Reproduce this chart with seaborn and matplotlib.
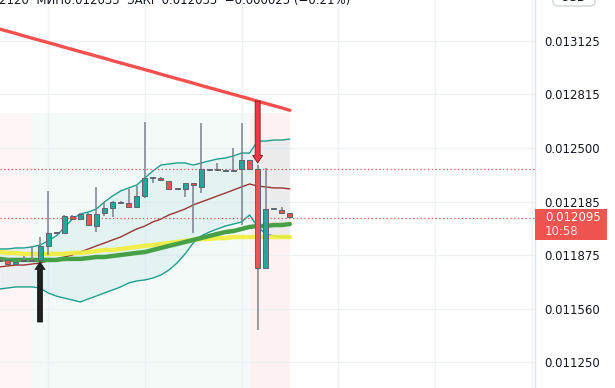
import matplotlib
matplotlib.use("Agg")
import matplotlib.pyplot as plt
from matplotlib.patches import Rectangle, FancyBboxPatch
from matplotlib.transforms import blended_transform_factory
import seaborn as sns
import numpy as np

# --- candles (one per bar, left to right) ---
opens = [0.011846, 0.011846, 0.011823, 0.011840, 0.011840, 0.011846, 0.011928, 0.012004,
         0.012004, 0.012104, 0.012086, 0.012115, 0.012045, 0.012121, 0.012150, 0.012185,
         0.012180, 0.012156, 0.012221, 0.012326, 0.012326, 0.012308, 0.012262, 0.012262,
         0.012297, 0.012273, 0.012378, 0.012372, 0.012372, 0.012367, 0.012378, 0.012431,
         0.012378, 0.011800, 0.012145, 0.012139, 0.012121]
highs = [0.011852, 0.011858, 0.011846, 0.011870, 0.011928, 0.011981, 0.012250, 0.012010,
         0.012110, 0.012110, 0.012121, 0.012121, 0.012273, 0.012185, 0.012191, 0.012191,
         0.012262, 0.012279, 0.012654, 0.012326, 0.012332, 0.012308, 0.012262, 0.012297,
         0.012297, 0.012648, 0.012378, 0.012413, 0.012372, 0.012501, 0.012648, 0.012431,
         0.012402, 0.012384, 0.012145, 0.012156, 0.012121]
lows = [0.011835, 0.011823, 0.011823, 0.011840, 0.011840, 0.011840, 0.011876, 0.012004,
        0.011998, 0.012086, 0.012086, 0.012051, 0.012010, 0.012104, 0.012098, 0.012180,
        0.012156, 0.012156, 0.012209, 0.012297, 0.012314, 0.012262, 0.012262, 0.012215,
        0.012004, 0.012238, 0.012372, 0.012372, 0.012367, 0.012367, 0.012051, 0.012378,
        0.011438, 0.011800, 0.012145, 0.012121, 0.012098]
closes = [0.011840, 0.011823, 0.011835, 0.011840, 0.011846, 0.011928, 0.012004, 0.012010,
          0.012104, 0.012086, 0.012115, 0.012051, 0.012115, 0.012150, 0.012185, 0.012180,
          0.012156, 0.012221, 0.012326, 0.012326, 0.012314, 0.012262, 0.012262, 0.012297,
          0.012285, 0.012378, 0.012372, 0.012372, 0.012367, 0.012372, 0.012431, 0.012378,
          0.011800, 0.012145, 0.012145, 0.012121, 0.012098]

# --- indicators ---
ma_red = [0.013197, 0.013184, 0.013171, 0.013157, 0.013144, 0.013131, 0.013118, 0.013105,
          0.013091, 0.013078, 0.013065, 0.013052, 0.013039, 0.013026, 0.013012, 0.012999,
          0.012986, 0.012973, 0.012960, 0.012947, 0.012933, 0.012920, 0.012907, 0.012894,
          0.012881, 0.012867, 0.012854, 0.012841, 0.012828, 0.012815, 0.012802, 0.012789,
          0.012775, 0.012762, 0.012749, 0.012736, 0.012722]
bb_upper = [0.011911, 0.011911, 0.011917, 0.011917, 0.011923, 0.011934, 0.011958, 0.011987,
            0.012034, 0.012086, 0.012116, 0.012127, 0.012145, 0.012186, 0.012221, 0.012250,
            0.012268, 0.012285, 0.012326, 0.012367, 0.012402, 0.012408, 0.012414, 0.012414,
            0.012402, 0.012414, 0.012426, 0.012437, 0.012443, 0.012455, 0.012472, 0.012472,
            0.012542, 0.012542, 0.012548, 0.012548, 0.012554]
bb_mid = [0.011806, 0.011812, 0.011817, 0.011817, 0.011823, 0.011829, 0.011841, 0.011853,
          0.011864, 0.011876, 0.011893, 0.011911, 0.011929, 0.011946, 0.011964, 0.011981,
          0.012005, 0.012028, 0.012045, 0.012069, 0.012086, 0.012110, 0.012127, 0.012145,
          0.012168, 0.012186, 0.012203, 0.012221, 0.012238, 0.012256, 0.012274, 0.012291,
          0.012279, 0.012274, 0.012268, 0.012268, 0.012262]
bb_lower = [0.011677, 0.011683, 0.011689, 0.011689, 0.011689, 0.011683, 0.011654, 0.011636,
            0.011624, 0.011613, 0.011601, 0.011619, 0.011636, 0.011654, 0.011671, 0.011689,
            0.011712, 0.011724, 0.011730, 0.011741, 0.011759, 0.011788, 0.011829, 0.011882,
            0.011946, 0.011987, 0.012010, 0.012028, 0.012045, 0.012057, 0.012069, 0.012110,
            0.012040, 0.011999, 0.011987, 0.011981, 0.011981]
ma_yellow = [0.011893, 0.011888, 0.011888, 0.011882, 0.011882, 0.011882, 0.011882, 0.011882,
             0.011882, 0.011888, 0.011888, 0.011893, 0.011899, 0.011905, 0.011905, 0.011911,
             0.011917, 0.011923, 0.011929, 0.011934, 0.011940, 0.011946, 0.011952, 0.011958,
             0.011964, 0.011969, 0.011969, 0.011975, 0.011975, 0.011981, 0.011981, 0.011981,
             0.011981, 0.011981, 0.011981, 0.011981, 0.011981]
ma_green = [0.011853, 0.011847, 0.011847, 0.011847, 0.011847, 0.011847, 0.011847, 0.011847,
            0.011853, 0.011853, 0.011853, 0.011858, 0.011864, 0.011864, 0.011870, 0.011876,
            0.011882, 0.011888, 0.011893, 0.011905, 0.011917, 0.011929, 0.011940, 0.011952,
            0.011964, 0.011975, 0.011987, 0.011999, 0.012010, 0.012016, 0.012028, 0.012040,
            0.012045, 0.012045, 0.012051, 0.012051, 0.012057]

# signals: (bar index, arrow tip, arrow tail)
buy_signal = (5, 0.011835, 0.011484)
sell_signal = (32, 0.012414, 0.012776)

# shaded zones (bar index range) and their upper price
zone_starts = [-1, 4, 31]
zone_ends = [4, 31, 36]
zone_colors = ["#fef6f6", "#f4faf7", "#fdf2f1"]
zone_top = 0.012706

price_lines = [0.012378, 0.012095]
last_price = "0.012095"
countdown = "10:58"
y_ticks = [0.011250, 0.011560, 0.011875, 0.012185, 0.012500, 0.012815, 0.013125]
grid_bars = [6, 18, 30, 42, 54, 66]
header = "2120  МИН0.012035  ЗАКР 0.012035  −0.000025 (−0.21%)"

sns.set_theme(style="white")
plt.rcParams['font.family'] = ['DejaVu Sans']

fig = plt.figure(figsize=(6.15, 3.88), dpi=100)
ax = fig.add_axes([0, 0, 535 / 615, 1])
ax.set_facecolor("white")
ax.set_xlim(0.037, 66.41)
ax.set_ylim(0.011098, 0.013367)

idx = np.arange(len(closes))
o, h, l, c = map(np.array, (opens, highs, lows, closes))

# background zones
for s, e, col in zip(zone_starts, zone_ends, zone_colors):
    ax.fill_between([s, e], 0.011098, zone_top, color=col, lw=0, zorder=0)

# grid
ax.set_yticks(y_ticks)
ax.set_yticklabels([f"{v:.6f}" for v in y_ticks])
ax.set_xticks(grid_bars)
ax.set_xticklabels([])
ax.grid(True, color="#eef0f4", lw=1, zorder=0.5)
ax.set_axisbelow(True)

# Bollinger band
ax.fill_between(idx, bb_lower, bb_upper, color="#25a9b8", alpha=0.08, lw=0, zorder=1)
sns.lineplot(x=idx, y=bb_upper, ax=ax, color="#1f9e8e", lw=1, zorder=2)
sns.lineplot(x=idx, y=bb_lower, ax=ax, color="#1f9e8e", lw=1, zorder=2)
sns.lineplot(x=idx, y=bb_mid, ax=ax, color="#9c3434", lw=1, zorder=2)

# moving averages
sns.lineplot(x=idx, y=ma_yellow, ax=ax, color="#f2ee3a", lw=3.2, alpha=0.9, zorder=2)
sns.lineplot(x=idx, y=ma_green, ax=ax, color="#45a046", lw=3.2, zorder=2.1)
sns.lineplot(x=idx, y=ma_red, ax=ax, color="#f5504e", lw=2.4, zorder=2)

# price lines
for p in price_lines:
    ax.axhline(p, color="#f0534f", lw=0.9, ls=(0, (1, 2)), zorder=2.5)

# candles
colors = np.where(c >= o, "#26a69a", "#ef5350")
ax.vlines(idx, l, h, color="#7d808a", lw=1.1, zorder=4)
body_h = np.maximum(np.abs(c - o), 0.000004)
ax.bar(idx, body_h, bottom=np.minimum(o, c), width=0.62, color=colors,
       edgecolor="#60636d", linewidth=0.7, zorder=5)

# signal arrows
for (bar, tip, tail), fc, ec in [(buy_signal, "#1f1f1f", "#1f1f1f"),
                                 (sell_signal, "#f23645", "#7a1c1c")]:
    ax.annotate("", xy=(bar, tip), xytext=(bar, tail), zorder=8,
                arrowprops=dict(arrowstyle="simple,head_length=0.45,head_width=0.6,tail_width=0.3",
                                fc=fc, ec=ec, lw=0.6, shrinkA=0, shrinkB=0))

# axes styling
ax.yaxis.tick_right()
ax.tick_params(axis="y", length=0, pad=7, labelsize=8.5, labelcolor="#131722")
ax.tick_params(axis="x", length=0)
for side in ["top", "left", "bottom"]:
    ax.spines[side].set_visible(False)
ax.spines["right"].set_color("#e0e3eb")
ax.spines["right"].set_linewidth(1)

# last price label
tr = blended_transform_factory(ax.transAxes, ax.transData)
ax.add_patch(Rectangle((1.0, 0.011963), 72 / 535, 0.000182, transform=tr,
                       facecolor="#f05451", edgecolor="none", clip_on=False, zorder=9))
ax.text(545 / 535, 0.012095, last_price, transform=tr, color="white", fontsize=8.5,
        va="center", ha="left", clip_on=False, zorder=10)
ax.text(545 / 535, 0.012016, countdown, transform=tr, color="#fde3e3", fontsize=8.5,
        va="center", ha="left", clip_on=False, zorder=10)

# header strip (cut off at the top, as in the screenshot) and currency button
fig.text(-0.002, 1 - 4 / 388, header, fontsize=8.5, color="#131722", va="baseline")
fig.patches.append(FancyBboxPatch((553 / 615, 1 - 6 / 388), 42 / 615, 20 / 388,
                                  boxstyle="round,pad=0,rounding_size=0.01",
                                  transform=fig.transFigure, facecolor="white",
                                  edgecolor="#d1d4dc", lw=1))
fig.text(574 / 615, 1 - 1 / 388, "USD", fontsize=8.5, color="#131722",
         ha="center", va="baseline")

fig.savefig("out.png", dpi=100)
